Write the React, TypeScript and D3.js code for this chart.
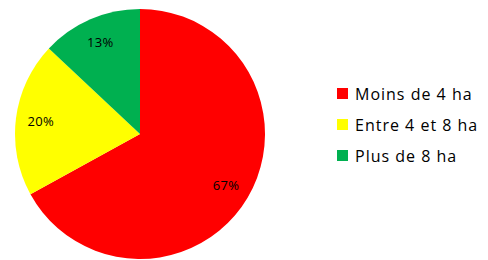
import React from "react";
import * as d3 from "d3";

const categories = ["Moins de 4 ha", "Entre 4 et 8 ha", "Plus de 8 ha"];
const values = [67, 20, 13];
const colors = ["#ff0000", "#ffff00", "#00b050"];

const W = 488;
const H = 260;
const cx = 140;
const cy = 134;
const R = 125;

export default function App() {
  const pie = d3.pie<number>().sort(null).value((d) => d);
  const arcs = pie(values);
  const arc = d3.arc<d3.PieArcDatum<number>>().innerRadius(0).outerRadius(R);
  const labelArc = d3
    .arc<d3.PieArcDatum<number>>()
    .innerRadius(R * 0.8)
    .outerRadius(R * 0.8);
  const font = "'Open Sans', sans-serif";

  return (
    <svg
      width={W}
      height={H}
      style={{ position: "absolute", left: 0, top: 0 }}
    >
      <rect width={W} height={H} fill="#fff" />
      <g transform={`translate(${cx},${cy})`}>
        {arcs.map((a, i) => (
          <path key={i} d={arc(a) || ""} fill={colors[i]} />
        ))}
        {arcs.map((a, i) => {
          const [x, y] = labelArc.centroid(a);
          return (
            <text
              key={i}
              x={x}
              y={y}
              textAnchor="middle"
              dominantBaseline="central"
              fontFamily={font}
              fontSize={13}
              letterSpacing={0.4}
              fill="#000"
            >
              {`${values[i]}%`}
            </text>
          );
        })}
      </g>
      <g transform="translate(337,88)">
        {categories.map((c, i) => (
          <g key={c} transform={`translate(0,${i * 31})`}>
            <rect width={11} height={11} fill={colors[i]} />
            <text
              x={18}
              y={5.5}
              dominantBaseline="central"
              fontFamily={font}
              fontSize={16}
              letterSpacing={1}
              fill="#000"
            >
              {c}
            </text>
          </g>
        ))}
      </g>
    </svg>
  );
}
